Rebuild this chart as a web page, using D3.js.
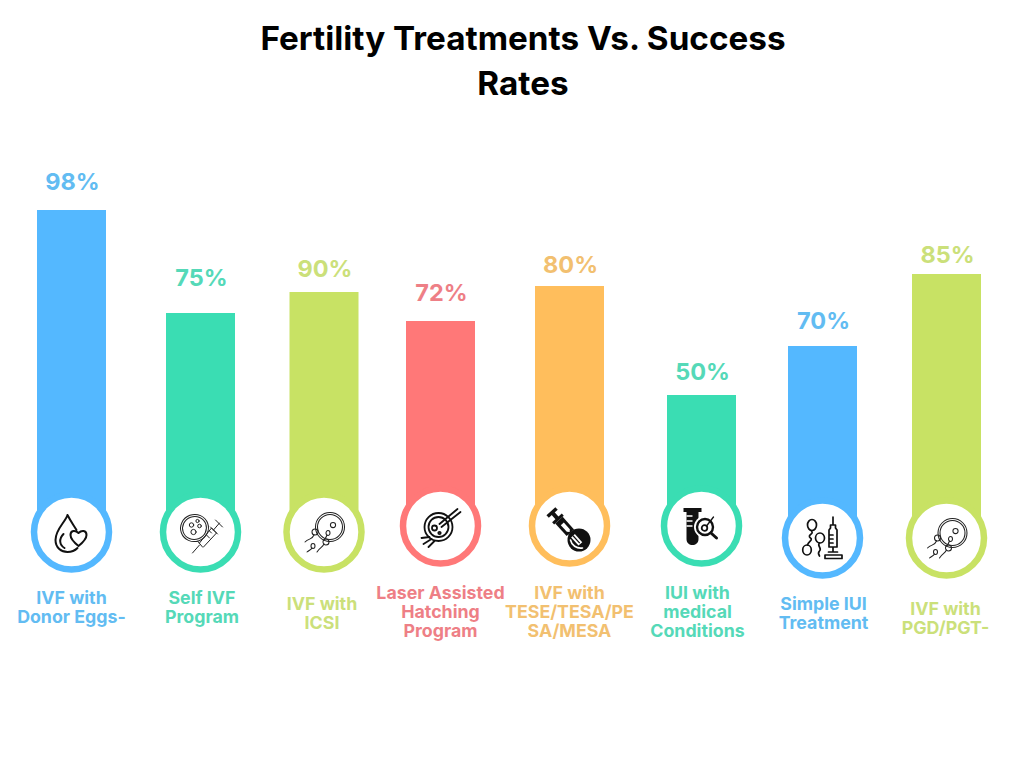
<!DOCTYPE html>
<html>
<head>
<meta charset="utf-8">
<script src="https://cdn.jsdelivr.net/npm/d3@7/dist/d3.min.js"></script>
<style>
html,body{margin:0;padding:0;background:#fff;}
svg{display:block;}
text{font-family:Inter,"Noto Sans",sans-serif;font-weight:700;text-anchor:middle;}
</style>
</head>
<body>
<div id="chart"></div>
<script>
// --- data ---
const categories = [
  ["IVF with","Donor Eggs-"],
  ["Self IVF","Program"],
  ["IVF with","ICSI"],
  ["Laser Assisted","Hatching","Program"],
  ["IVF with","TESE/TESA/PE","SA/MESA"],
  ["IUI with","medical","Conditions"],
  ["Simple IUI","Treatment"],
  ["IVF with","PGD/PGT-"]
];
const successRates = [98,75,90,72,80,50,70,85];
// drawn bar heights do not follow the printed rates in the source, so they are read separately
const barLevels = [97.5,71.75,77,69.75,78.5,51.25,63.5,81.5];
const iconNames = ["drop","dish","sperm","laser","probe","tube","syringe","sperm"];
const title = ["Fertility Treatments Vs. Success","Rates"];

// --- layout and style, separate from the data ---
const palette = {blue:"#54B8FF",green:"#3ADDB3",lime:"#C8E264",red:"#FF7878",orange:"#FFBE5C"};
const barColors = ["blue","green","lime","red","orange","green","blue","lime"];
const textColors = {blue:"#62BCF2",green:"#55D9B8",lime:"#CBE07A",red:"#EE7F86",orange:"#F2C070"};
const slots = [0,1.032,2.02,2.952,3.984,5.04,6.008,7];
const baseShift = [0,0,0,-6,-6,-6,6,6];
const valueGap = [28,35,23,28,21,23,25,19];
const labelShift = [0,0,6,-5,-5,-5,6,11];
const labelNudge = [0,1.5,-2,0,0,-4,1,-1];

const W=1024,H=768,BASE=532,BAR_W=69,R=37.5,RING=6.5;
const x=d3.scaleLinear().domain([0,7]).range([71.5,946.5]);
const y=d3.scaleLinear().domain([0,100]).range([600,200]);
const yBase=i=>BASE+baseShift[i];

const svg=d3.select("#chart").append("svg").attr("width",W).attr("height",H).attr("viewBox",`0 0 ${W} ${H}`);

svg.append("g").selectAll("text").data(title).join("text")
  .attr("x",523).attr("y",(d,i)=>50+i*45)
  .attr("font-size",33.25).attr("fill","#000").text(d=>d);

const idx=d3.range(categories.length);
const col=svg.append("g").selectAll("g").data(idx).join("g");

col.append("rect")
  .attr("x",i=>x(slots[i])-BAR_W/2)
  .attr("y",i=>y(barLevels[i]))
  .attr("width",BAR_W)
  .attr("height",i=>yBase(i)-y(barLevels[i]))
  .attr("fill",i=>palette[barColors[i]]);

col.append("circle")
  .attr("cx",i=>x(slots[i])).attr("cy",yBase)
  .attr("r",R).attr("fill","#fff")
  .attr("stroke",i=>palette[barColors[i]]).attr("stroke-width",RING);

col.append("text")
  .attr("x",i=>x(slots[i])+1)
  .attr("y",i=>y(barLevels[i])-valueGap[i]+7.5)
  .attr("font-size",23.5)
  .attr("fill",i=>textColors[barColors[i]])
  .text(i=>successRates[i]+"%");

col.each(function(i){
  d3.select(this).append("g").selectAll("text").data(categories[i]).join("text")
    .attr("x",x(slots[i])+labelNudge[i])
    .attr("y",(d,k)=>603.5+labelShift[i]+k*19.3)
    .attr("font-size",17.8)
    .attr("fill",textColors[barColors[i]])
    .text(d=>d);
});

// --- icons, drawn around each circle centre ---
const icons={
  drop(g){
    const s=g.append("g").attr("fill","none").attr("stroke","#111").attr("stroke-width",2).attr("stroke-linecap","round").attr("stroke-linejoin","round");
    s.append("path").attr("d","M-4,-17 C-6,-10 -16,-3 -16,8 C-16,16 -10,20 -4,20 C0,20 3,19 6,16 M-4,-17 C-1,-11 2,-7 5,-2");
    s.append("path").attr("d","M-8,2 C-13,7 -12,13 -7,16");
    s.append("path").attr("d","M7,14 C2,10 -1,7 -1,3 C-1,-2 4,-2 7,1 C10,-2 15,-2 15,3 C15,7 12,10 7,14 Z");
  },
  dish(g){
    const s=g.append("g").attr("fill","none").attr("stroke","#222").attr("stroke-width",1).attr("stroke-linecap","round").attr("stroke-linejoin","round");
    s.append("ellipse").attr("cx",-6).attr("cy",-4).attr("rx",14).attr("ry",13.5).attr("transform","rotate(-20 -6 -4)");
    s.append("ellipse").attr("cx",-6).attr("cy",-4).attr("rx",12).attr("ry",11.5).attr("transform","rotate(-20 -6 -4)");
    [[-9,-7,2.2],[-3,-11,1.6],[-1,-6,1.8],[-7,0,2.6]].forEach(c=>s.append("circle").attr("cx",c[0]).attr("cy",c[1]).attr("r",c[2]));
    s.append("path").attr("d","M-8,21 L-1,13 M-3,9 L2,15 M-1,11 L11,-4 L16,1 L3,15 M6,3 L9,6 M9,-1 L11,1 M13,-2 L19,-9 M15,-12 L22,-5 M10,-5 L17,2");
  },
  sperm(g){
    const s=g.append("g").attr("fill","none").attr("stroke","#222").attr("stroke-width",1.05).attr("stroke-linecap","round");
    s.append("circle").attr("cx",6).attr("cy",-5).attr("r",14.5);
    s.append("circle").attr("cx",6).attr("cy",-5).attr("r",12.5);
    s.append("circle").attr("cx",9).attr("cy",-7).attr("r",2.6);
    s.append("ellipse").attr("cx",-9).attr("cy",0).attr("rx",3).attr("ry",3);
    s.append("ellipse").attr("cx",2).attr("cy",10).attr("rx",3).attr("ry",3);
    s.append("ellipse").attr("cx",4).attr("cy",1).attr("rx",2).attr("ry",2.5);
    s.append("ellipse").attr("cx",-11).attr("cy",14).attr("rx",2).attr("ry",2.5);
    s.append("path").attr("d","M-10,3 C-12,8 -15,6 -19,10 M0,12 C-2,16 -4,15 -7,20 M-12,16 C-13,18 -15,18 -17,20 M3,3 C2,6 1,7 0,8");
  },
  laser(g){
    const s=g.append("g").attr("fill","none").attr("stroke","#111").attr("stroke-width",1.8).attr("stroke-linecap","round");
    s.append("circle").attr("cx",-2).attr("cy",1).attr("r",14);
    s.append("circle").attr("cx",-2).attr("cy",1).attr("r",10);
    s.append("circle").attr("cx",-6).attr("cy",2).attr("r",2.5);
    s.append("circle").attr("cx",-1).attr("cy",7).attr("r",1.2);
    s.append("path").attr("d","M-1,-2 L17,-17 M1,1 L20,-14 M-11,11 L-19,12 M-9,13 L-17,18 M-6,15 L-12,21");
  },
  probe(g){
    g.append("circle").attr("cx",9.5).attr("cy",14).attr("r",11.5).attr("fill","#111");
    g.append("path").attr("d","M1,14 C2,19 7,23 13,22").attr("fill","none").attr("stroke","#fff").attr("stroke-width",1.6).attr("stroke-linecap","round");
    const r=g.append("g").attr("transform","translate(1.5,7.5) rotate(48)").attr("fill","#111");
    r.append("rect").attr("x",-30).attr("y",-6).attr("width",3.5).attr("height",12);
    r.append("rect").attr("x",-27).attr("y",-2).attr("width",8).attr("height",4);
    r.append("rect").attr("x",-21).attr("y",-6.5).attr("width",3).attr("height",13);
    r.append("rect").attr("x",-18).attr("y",-5).attr("width",17).attr("height",10);
    r.append("path").attr("d","M-13,-2 L-4,-2 L-2,0 L-4,2 L-13,2 Z").attr("fill","#fff");
    r.append("rect").attr("x",-1).attr("y",-3).attr("width",4).attr("height",6);
    r.append("rect").attr("x",3).attr("y",-2.5).attr("width",11).attr("height",5).attr("fill","#fff");
    r.append("rect").attr("x",3).attr("y",-0.6).attr("width",10).attr("height",1.2);
  },
  tube(g){
    g.append("path").attr("fill","#111")
      .attr("d","M-18,-18 L0,-18 L0,-14 L-3,-14 L-3,13 C-3,21 -15,21 -15,13 L-15,-14 L-18,-14 Z");
    g.append("path").attr("fill","none").attr("stroke","#fff").attr("stroke-width",1.6)
      .attr("d","M-9,-10 L-15,-10 M-9,-5 L-15,-5 M-9,0 L-15,0");
    g.append("circle").attr("cx",3.5).attr("cy",1).attr("r",11).attr("fill","#fff");
    const s=g.append("g").attr("fill","none").attr("stroke","#111").attr("stroke-linecap","round");
    s.append("circle").attr("cx",3.5).attr("cy",1).attr("r",8).attr("stroke-width",2.4);
    s.append("path").attr("stroke-width",3).attr("d","M9.5,7 L15,12");
    s.append("circle").attr("cx",3).attr("cy",2).attr("r",2.8).attr("stroke-width",1.8);
    s.append("path").attr("stroke-width",1.3).attr("d","M5,0 L12,-9");
  },
  syringe(g){
    const s=g.append("g").attr("fill","none").attr("stroke","#111").attr("stroke-width",1.7).attr("stroke-linecap","round").attr("stroke-linejoin","round");
    s.append("ellipse").attr("cx",-10.5).attr("cy",-13).attr("rx",4.5).attr("ry",5.5);
    s.append("ellipse").attr("cx",-2.5).attr("cy",0).attr("rx",4.5).attr("ry",5);
    s.append("ellipse").attr("cx",-15.5).attr("cy",12).attr("rx",4.3).attr("ry",5);
    s.append("path").attr("d","M-11,-7 C-8,-4 -16,-3 -12,0 C-9,2 -15,4 -15,7 M-3,5 C-6,8 0,10 -3,13 C-5,15 -3,18 -3,18");
    s.append("path").attr("d","M10.5,-21 L10.5,-13 M8,-13 L13,-13 L13,-10 L14.5,-8 L14.5,9 L6.5,9 L6.5,-8 L8,-10 Z M6.5,-3 L10.5,-3 M6.5,1 L10.5,1 M6.5,5 L10.5,5 M10.5,9 L10.5,14 M6,14 L15,14 M2.5,17 L19.5,17 L19.5,20.5 L2.5,20.5 Z");
  }
};
col.each(function(i){
  const g=d3.select(this).append("g").attr("transform",`translate(${x(slots[i])},${yBase(i)})`);
  icons[iconNames[i]](g);
});
</script>
</body>
</html>
